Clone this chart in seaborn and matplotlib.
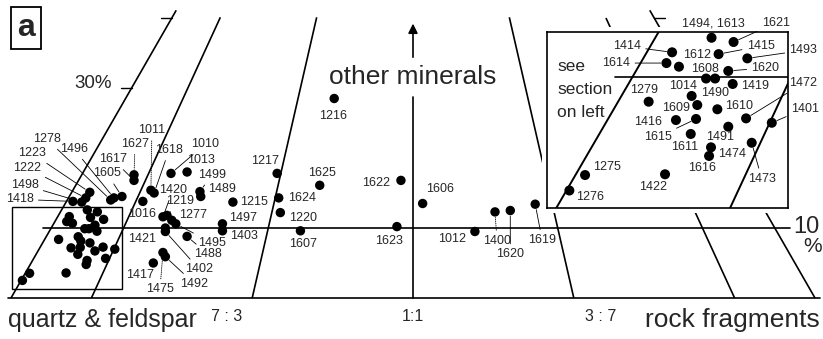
import numpy as np
import pandas as pd
import matplotlib
matplotlib.use("Agg")
import matplotlib.pyplot as plt
from matplotlib.patches import Rectangle
import seaborn as sns

sns.set_theme(style="white")
plt.rcParams["font.family"] = ["Liberation Sans", "DejaVu Sans"]

# --- data -------------------------------------------------------------------
# Position along the (Q+F) : R base (0 = quartz & feldspar, 100 = rock
# fragments) and share of other minerals (%), for the samples of the full plot.
main_ids = ["1216", "1217", "1625", "1622", "1624", "1220", "1215", "1497",
            "1403", "1607", "1623", "1489", "1499", "1013", "1010", "1606",
            "1012", "1400", "1620", "1619", "1627", "1617", "1605", "1496",
            "1278", "1223", "1222", "1498", "1418", "1011", "1618", "1016",
            "1420", "1219", "1277", "1495", "1421", "1402", "1488", "1417",
            "1475", "1492"]
main_x = [40.2, 33.1, 38.4, 48.5, 33.3, 33.5, 27.6, 26.3,
          26.3, 36.0, 48.0, 23.6, 23.5, 21.9, 19.9, 51.2,
          57.7, 60.2, 62.1, 65.2, 15.3, 15.3, 13.8, 12.8,
          12.4, 9.8, 9.3, 8.8, 7.7, 17.4, 17.8, 16.4,
          18.9, 19.4, 20.0, 20.5, 19.2, 19.2, 21.9, 17.7,
          18.9, 19.2]
main_y = [28.5, 17.8, 16.1, 16.8, 14.3, 12.2, 13.7, 10.6,
          9.6, 9.6, 10.2, 14.5, 15.2, 18.0, 17.8, 13.5,
          9.5, 12.3, 12.5, 13.4, 17.6, 16.8, 14.5, 14.3,
          14.0, 15.1, 14.3, 13.7, 13.8, 15.4, 15.0, 13.8,
          11.6, 11.8, 11.1, 10.6, 10.0, 9.5, 8.8, 5.0,
          6.5, 5.9]

# Samples inside the quartz & feldspar corner section (shown enlarged).
sec_ids = ["1494, 1613", "1621", "1414", "1415", "1493", "1614", "1612",
           "1620", "1608", "1014", "1419", "1279", "1490", "1609", "1610",
           "1416", "1615", "1472", "1401", "1491", "1611", "1473", "1474",
           "1616", "1275", "1276", "1422"]
sec_x = [9.49, 10.74, 7.25, 9.89, 11.52, 6.93, 7.64,
         10.44, 9.69, 9.18, 10.69, 5.92, 8.36, 8.68, 9.82,
         7.47, 8.61, 11.45, 12.91, 10.44, 8.31, 11.77, 9.46,
         9.35, 2.31, 1.42, 6.85]
sec_y = [12.59, 12.31, 11.63, 11.51, 11.23, 10.92, 10.68,
         10.40, 9.90, 9.90, 9.54, 8.37, 8.75, 8.15, 7.87,
         7.16, 7.23, 7.27, 6.98, 6.72, 6.24, 5.66, 5.36,
         4.79, 3.53, 2.51, 3.58]

# Rock-fragment fractions of the guide lines and how far up each is drawn (%).
ratio_k = [0.0, 0.1, 0.3, 0.7, 0.9, 1.0]
ratio_top = [41.1, 40.1, 40.1, 40.1, 40.0, 41.1]
ratio_labels = ["7 : 3", "1:1", "3 : 7"]
grid_level = 10          # horizontal "10 %" line
edge_ticks = [30, 40]    # ticks on the left edge
section_x = (0.15, 13.83)
section_y = (1.355, 12.97)

main_df = pd.DataFrame({"id": main_ids, "x": main_x, "y": main_y})
sec_df = pd.DataFrame({"id": sec_ids, "x": sec_x, "y": sec_y})

# --- label placement (offsets in pixels) ------------------------------------
main_off = {
    "1216": (-1, -18), "1217": (-12, 12), "1625": (2, 12), "1622": (-25, -3),
    "1624": (23, 0), "1220": (23, -5), "1215": (21, 0), "1497": (21, 6),
    "1403": (22, -5), "1607": (3, -13), "1623": (-8, -14), "1489": (21, 7),
    "1499": (12, 17), "1013": (14, 12), "1010": (34, 29), "1606": (17, 14),
    "1012": (-23, -8), "1400": (2, -29), "1620": (0, -44), "1619": (7, -36),
    "1627": (1, 31), "1617": (-21, 21), "1605": (-15, 23), "1496": (-40, 49),
    "1278": (-64, 61), "1223": (-58, 39), "1222": (-59, 30), "1498": (-57, 17),
    "1418": (-53, 2), "1011": (1, 60), "1618": (15, 43), "1016": (-1, -13),
    "1420": (10, 27), "1219": (13, 14), "1277": (21, 5), "1495": (36, -19),
    "1421": (-23, -11), "1402": (34, -38), "1488": (21, -18),
    "1417": (-13, -12), "1475": (-3, -37), "1492": (29, -27),
}
main_lead = {"1010", "1617", "1605", "1496", "1278", "1223", "1222", "1498",
             "1418", "1618", "1219", "1495", "1402", "1488", "1492", "1620",
             "1619", "1499", "1420"}
main_dotted = {"1627", "1011", "1400", "1475"}

sec_off = {
    "1494, 1613": (2, 14), "1621": (42, 19), "1414": (-45, 6),
    "1415": (42, 8), "1493": (56, 8), "1614": (-50, 0), "1612": (18, 12),
    "1620": (37, 3), "1608": (-10, 10), "1014": (-23, -7), "1419": (22, -2),
    "1279": (-5, 12), "1490": (23, 3), "1609": (-21, -3), "1610": (22, 3),
    "1416": (-28, -2), "1615": (-38, -18), "1491": (-8, -10),
    "1611": (-6, -13), "1474": (21, -7), "1616": (-7, -12),
    "1473": (10, -36), "1275": (22, 8), "1276": (21, -7), "1422": (-12, -13),
    "1472": (57, 35), "1401": (33, 14),
}
sec_lead = {"1621", "1414", "1415", "1493", "1614", "1612", "1620", "1472",
            "1401", "1615", "1473"}


def tern_x(k, o):
    """Horizontal position of a point with R/(Q+R)=k and o % other minerals."""
    o = np.asarray(o, dtype=float)
    return 100 * k * (1 - o / 100) + 50 * o / 100


def ratio_line(ax, k, top, lw=1.2):
    o = np.array([0.0, top])
    ax.plot(tern_x(k, o), o, color="black", lw=lw, solid_capstyle="butt")


def label_points(ax, df, offsets, lead, dotted=()):
    for _, r in df.iterrows():
        dx, dy = offsets[r["id"]]
        props = None
        if r["id"] in lead:
            props = dict(arrowstyle="-", color="black", lw=0.6,
                         shrinkA=1, shrinkB=4)
        elif r["id"] in dotted:
            props = dict(arrowstyle="-", color="black", lw=0.6, ls=(0, (1, 1.5)),
                         shrinkA=1, shrinkB=4)
        ax.annotate(r["id"], (r["x"], r["y"]), xytext=(dx, dy),
                    textcoords="offset pixels", ha="center", va="center",
                    fontsize=9, arrowprops=props, annotation_clip=False)


fig = plt.figure(figsize=(8.23, 3.39), dpi=100)
ax = fig.add_axes([0, 0, 1, 1])
ax.set_xlim(-1.368, 100.995)
ax.set_ylim(-5.857, 42.571)
ax.axis("off")

# base and guide lines
ax.plot([-0.4, 100.6], [0, 0], color="black", lw=1.2)
for k, top in zip(ratio_k, ratio_top):
    ratio_line(ax, k, top)
ax.plot([4.0, 96.9], [grid_level, grid_level], color="black", lw=1.2)
for t in edge_ticks:
    x0 = tern_x(0, t)
    ax.plot([x0 - 1.3, x0], [t, t], color="black", lw=1.0)
x1 = tern_x(1, 40)
ax.plot([x1, x1 + 1.3], [40, 40], color="black", lw=1.0)

# central axis towards the "other minerals" apex
ax.plot([50, 50], [0, 28.7], color="black", lw=1.2)
ax.annotate("", xy=(50, 39.2), xytext=(50, 34.4),
            arrowprops=dict(arrowstyle="-|>", color="black", lw=1.2,
                            mutation_scale=14, shrinkA=0, shrinkB=0))
ax.text(50, 30.5, "other minerals", ha="center", va="baseline", fontsize=19)

ax.text(12.6, 30.7, "30%", ha="right", va="center", fontsize=13.5)
ax.text(98.9, 10.1, "10", ha="center", va="center", fontsize=17)
ax.text(99.7, 7.3, "%", ha="center", va="center", fontsize=15)

ax.text(-0.4, -4.2, "quartz & feldspar", ha="left", va="baseline", fontsize=18)
ax.text(100.6, -4.2, "rock fragments", ha="right", va="baseline", fontsize=19)
for lab, xpos in zip(ratio_labels, [26.8, 50.0, 73.3]):
    ax.text(xpos, -3.3, lab, ha="center", va="baseline", fontsize=11.5)

fig.text(26 / 823, 1 - 28 / 339, "a", ha="center", va="center", fontsize=23,
         fontweight="bold",
         bbox=dict(boxstyle="square,pad=0.2", fc="white", ec="black", lw=1.3))

# outline of the corner section
ax.add_patch(Rectangle((section_x[0], section_y[0]),
                       section_x[1] - section_x[0], section_y[1] - section_y[0],
                       fill=False, ec="black", lw=1.0, zorder=1))

sns.scatterplot(data=main_df, x="x", y="y", ax=ax, color="black", s=46,
                edgecolor="none", zorder=3, legend=False)
sns.scatterplot(data=sec_df, x="x", y="y", ax=ax, color="black", s=46,
                edgecolor="none", zorder=3, legend=False)
label_points(ax, main_df, main_off, main_lead, main_dotted)

# enlarged corner section
W, H = 823, 339
ax.add_patch(Rectangle((542 / W, 1 - 213 / H), 251 / W, 186 / H,
                       transform=fig.transFigure, fc="white", ec="none",
                       zorder=4))
axi = fig.add_axes([547 / W, 1 - 208 / H, 241 / W, 176 / H])
axi.set_xlim(*section_x)
axi.set_ylim(*section_y)
axi.set_xticks([])
axi.set_yticks([])
for s in axi.spines.values():
    s.set_color("black")
    s.set_linewidth(1.2)
    s.set_visible(True)
axi.set_facecolor("white")
for k in (0.0, 0.1):
    ratio_line(axi, k, 20, lw=1.4)
axi.plot([4.0, 20], [grid_level, grid_level], color="black", lw=1.2)
sns.scatterplot(data=sec_df, x="x", y="y", ax=axi, color="black", s=52,
                edgecolor="none", zorder=3, legend=False)
axi.set_xlabel("")
axi.set_ylabel("")
label_points(axi, sec_df, sec_off, sec_lead)
for txt, yy in zip(["see", "section", "on left"], [0.803, 0.676, 0.541]):
    axi.text(0.042, yy, txt, transform=axi.transAxes, ha="left", va="center",
             fontsize=12.5)

fig.savefig("out.png", dpi=100, facecolor="white")
